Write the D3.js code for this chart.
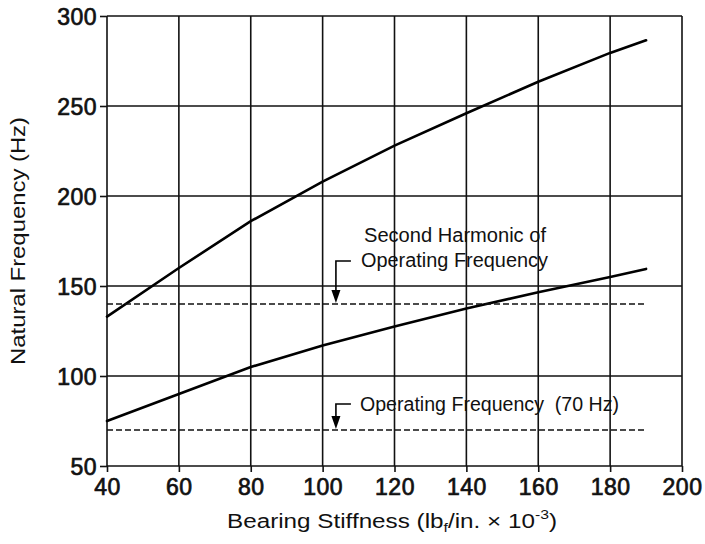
<!DOCTYPE html>
<html>
<head>
<meta charset="utf-8">
<script src="https://cdn.jsdelivr.net/npm/d3@7"></script>
<style>
  body { margin: 0; background: #fff; }
  svg { display: block; font-family: "Liberation Sans", Arial, sans-serif; }
  .tick-label { font-size: 23px; fill: #111; stroke: #111; stroke-width: 0.7; letter-spacing: 0.5px; }
  .title { font-size: 20px; fill: #111; }
  .note { font-size: 20px; fill: #111; }
</style>
</head>
<body>
<div class="canvas"></div>
<script>
// ---- data ----
const stiffness = [40, 60, 80, 100, 120, 140, 160, 180, 190];
const upperFreq = [133, 160, 186, 208, 228, 246, 263.5, 279.5, 286.5];
const lowerFreq = [75, 90, 105, 117, 127.5, 137.5, 146.5, 155, 159.5];
const harmonicRange = [40, 190];
const secondHarmonic = 140;
const operatingFreq = 70;
const xTicks = [40, 60, 80, 100, 120, 140, 160, 180, 200];
const yTicks = [50, 100, 150, 200, 250, 300];

const width = 705;
const height = 544;

const svg = d3.select('.canvas')
    .append('svg')
    .attr('width', width)
    .attr('height', height);

const x = d3.scaleLinear().domain([40, 200]).range([107, 682]);
const y = d3.scaleLinear().domain([50, 300]).range([466, 16]);

////////// GRID ///////////////////
const grid = svg.append('g')
    .attr('stroke', '#111')
    .attr('stroke-width', 1.6);

grid.selectAll('line.v')
    .data(xTicks)
    .enter().append('line')
    .attr('x1', d => x(d)).attr('x2', d => x(d))
    .attr('y1', y(300)).attr('y2', y(50));

grid.selectAll('line.h')
    .data(yTicks)
    .enter().append('line')
    .attr('x1', x(40)).attr('x2', x(200))
    .attr('y1', d => y(d)).attr('y2', d => y(d));

////////// AXES ///////////////////
const yAxis = d3.axisLeft(y).tickValues(yTicks).tickSize(7).tickPadding(3);
const xAxis = d3.axisBottom(x).tickValues(xTicks).tickSize(6).tickPadding(6);

const gY = svg.append('g')
    .attr('transform', `translate(${x(40)},0)`)
    .call(yAxis);
const gX = svg.append('g')
    .attr('transform', `translate(0,${y(50)})`)
    .call(xAxis);

[gX, gY].forEach(g => {
    g.select('.domain').remove();
    g.selectAll('line').attr('stroke', '#111').attr('stroke-width', 1.6);
    g.selectAll('text')
        .attr('class', 'tick-label')
        .attr('font-family', null)
        .attr('font-size', null);
});
gY.selectAll('text').attr('dy', '0.36em');
gX.selectAll('text').attr('dy', '0.72em');

////////// CURVES ///////////////////
const line = d3.line()
    .x(d => x(d[0]))
    .y(d => y(d[1]));

[upperFreq, lowerFreq].forEach(series => {
    svg.append('path')
        .datum(stiffness.map((s, i) => [s, series[i]]))
        .attr('d', line)
        .attr('fill', 'none')
        .attr('stroke', '#000')
        .attr('stroke-width', 2.6)
        .attr('stroke-linecap', 'round');
});

[secondHarmonic, operatingFreq].forEach(f => {
    svg.append('path')
        .datum(harmonicRange.map(s => [s, f]))
        .attr('d', line)
        .attr('fill', 'none')
        .attr('stroke', '#111')
        .attr('stroke-width', 1.4)
        .attr('stroke-dasharray', '6,3');
});

////////// ANNOTATIONS ///////////////////
function leader(fx, topY, tipVal) {
    const lx = x(fx);
    const tip = y(tipVal) - 1;
    svg.append('path')
        .attr('d', `M${lx + 15},${topY} H${lx} V${tip - 12}`)
        .attr('fill', 'none')
        .attr('stroke', '#000')
        .attr('stroke-width', 1.6);
    svg.append('path')
        .attr('d', `M${lx - 4.5},${tip - 13} L${lx + 4.5},${tip - 13} L${lx},${tip} Z`)
        .attr('fill', '#000');
}

leader(103.7, 261, secondHarmonic);
leader(103.7, 404, operatingFreq);

function note(tx, ty, str, len) {
    svg.append('text').attr('class', 'note')
        .attr('x', tx).attr('y', ty)
        .attr('textLength', len)
        .attr('lengthAdjust', 'spacingAndGlyphs')
        .attr('xml:space', 'preserve')
        .text(str);
}
note(364, 242, 'Second Harmonic of', 182);
note(361, 267, 'Operating Frequency', 187);
note(360, 411, 'Operating Frequency  (70 Hz)', 259);

////////// TITLES ///////////////////
const xt = svg.append('text').attr('class', 'title')
    .attr('x', 227).attr('y', 528);
xt.append('tspan').text('Bearing Stiffness (lb');
xt.append('tspan').attr('font-size', 13).attr('dy', 4).text('f');
xt.append('tspan').attr('dy', -4).text('/in. \u00d7 10');
xt.append('tspan').attr('font-size', 13).attr('dy', -9).text('-3');
xt.append('tspan').attr('dy', 9).text(')');
xt.attr('textLength', 330).attr('lengthAdjust', 'spacingAndGlyphs');

svg.append('text').attr('class', 'title')
    .attr('transform', 'translate(25,241) rotate(-90)')
    .attr('text-anchor', 'middle')
    .attr('textLength', 248)
    .attr('lengthAdjust', 'spacingAndGlyphs')
    .text('Natural Frequency (Hz)');
</script>
</body>
</html>
